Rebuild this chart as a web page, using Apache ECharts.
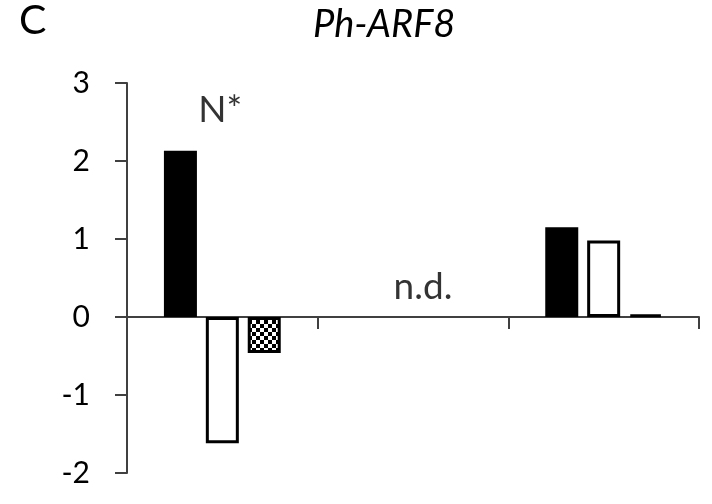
<!DOCTYPE html>
<html>
<head>
<meta charset="utf-8">
<script src="https://cdn.jsdelivr.net/npm/echarts@6/dist/echarts.min.js"></script>
<style>
  html, body { margin: 0; padding: 0; background: #fff; }
  #chart { width: 712px; height: 504px; }
</style>
</head>
<body>
<div id="chart"></div>
<script>
  // data
  var categories = ['g1', 'g2', 'g3'];
  var blackValues = [2.13, '-', 1.15];
  var whiteValues = [-1.62, '-', 0.98];
  var checkValues = [-0.46, '-', 0.03];
  var yTicks = [-2, -1, 0, 1, 2, 3];
  var noteText = ['N*', 'n.d.'];
  var noteCat = [0, 1];
  var noteY = [2.65, 0.38];

  var FONT = 'Lato';

  // checkered fill for the third series
  function checker() {
    var c = document.createElement('canvas');
    c.width = 8; c.height = 8;
    var ctx = c.getContext('2d');
    ctx.fillStyle = '#fff';
    ctx.fillRect(0, 0, 8, 8);
    ctx.fillStyle = '#000';
    ctx.fillRect(0, 0, 4, 4);
    ctx.fillRect(4, 4, 4, 4);
    return c;
  }

  var chart = echarts.init(document.getElementById('chart'));

  // n.d. sits a little right of its category centre in the original
  var notes = noteText.map(function (t, i) {
    return {
      value: [noteCat[i], noteY[i]],
      label: { formatter: t, offset: i === 0 ? [-2, 0] : [10, 0] }
    };
  });

  var barBase = {
    type: 'bar',
    barWidth: 33,
    barGap: '27%',
    animation: false
  };

  var option = {
    backgroundColor: '#fff',
    animation: false,
    title: {
      text: 'Ph-ARF8',
      left: 308,
      top: 1,
      textStyle: { fontFamily: FONT, fontStyle: 'italic', fontWeight: 'normal', fontSize: 38, color: '#000' }
    },
    graphic: [{
      type: 'text',
      left: 19,
      top: 0,
      style: { text: 'C', font: '41px ' + FONT, fill: '#000' }
    }],
    grid: { left: 127, right: 13, top: 83, bottom: 31 },
    xAxis: {
      type: 'category',
      data: categories,
      axisLine: { onZero: true, lineStyle: { color: '#404040', width: 2 } },
      axisTick: { show: true, length: 12, lineStyle: { color: '#404040', width: 2 } },
      axisLabel: { show: false },
      splitLine: { show: false }
    },
    yAxis: {
      type: 'value',
      min: yTicks[0],
      max: yTicks[yTicks.length - 1],
      interval: 1,
      axisLine: { show: true, lineStyle: { color: '#404040', width: 2 } },
      axisTick: { show: true, length: 12, lineStyle: { color: '#404040', width: 2 } },
      axisLabel: { margin: 37, fontFamily: FONT, fontSize: 30, color: '#000' },
      splitLine: { show: false }
    },
    series: [
      Object.assign({}, barBase, {
        name: 'black',
        data: blackValues,
        itemStyle: { color: '#000', borderColor: '#000', borderWidth: 3 }
      }),
      Object.assign({}, barBase, {
        name: 'white',
        data: whiteValues,
        itemStyle: { color: '#fff', borderColor: '#000', borderWidth: 3 }
      }),
      Object.assign({}, barBase, {
        name: 'checkered',
        data: checkValues,
        itemStyle: { color: { image: checker(), repeat: 'repeat' }, borderColor: '#000', borderWidth: 3 }
      }),
      {
        type: 'scatter',
        symbolSize: 0,
        silent: true,
        data: notes,
        label: {
          show: true,
          position: 'inside',
          fontFamily: FONT,
          fontSize: 37,
          color: '#000'
        }
      }
    ]
  };

  chart.setOption(option);
</script>
</body>
</html>
